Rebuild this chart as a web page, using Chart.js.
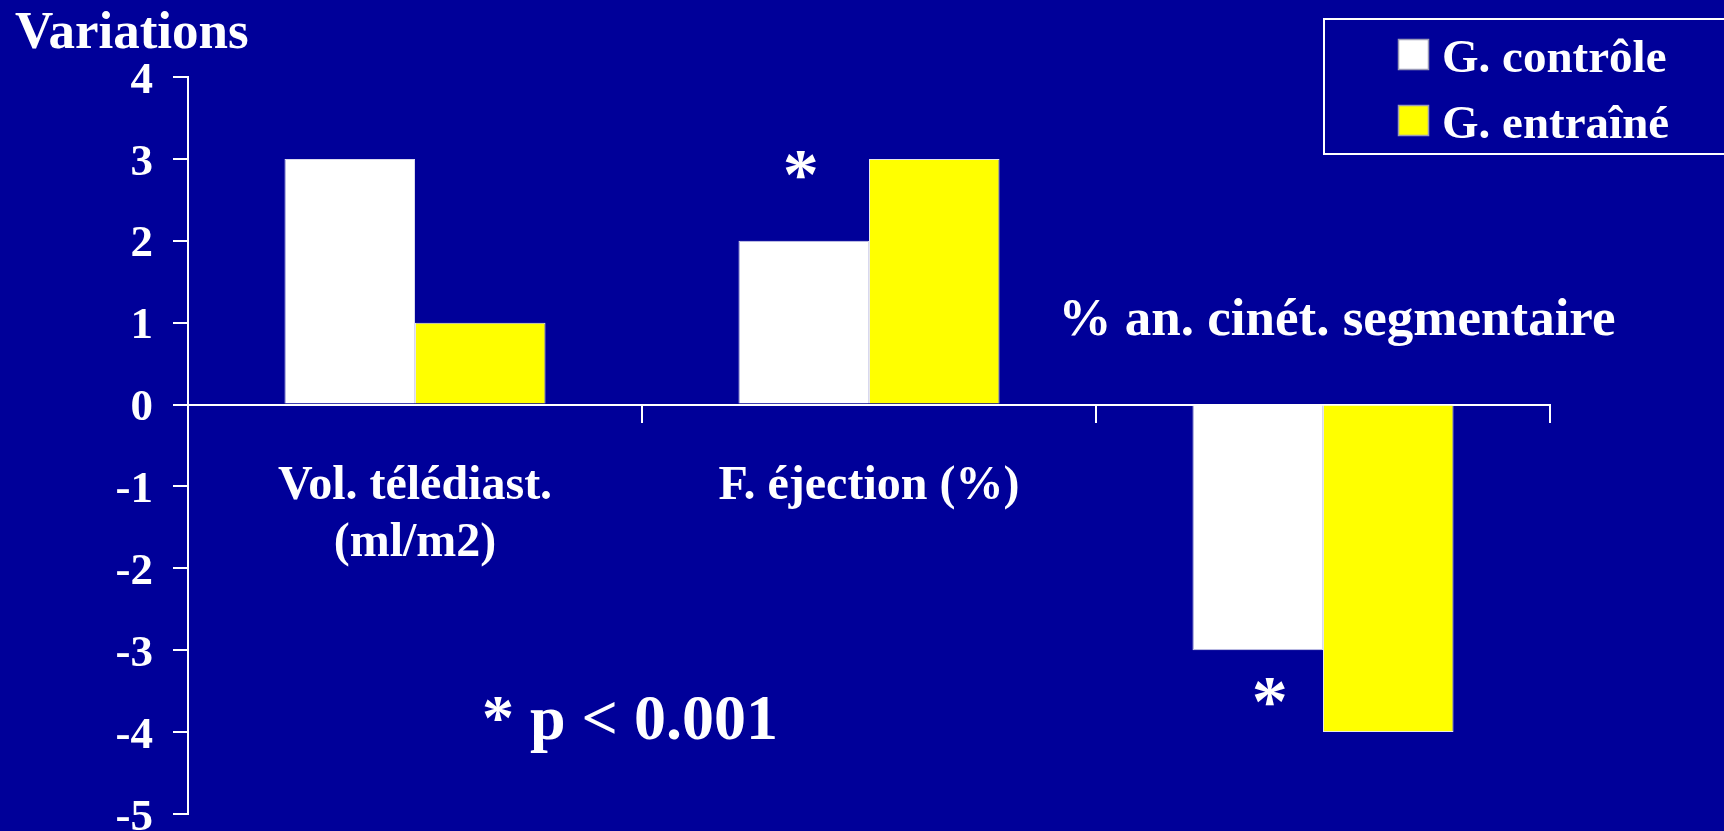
<!DOCTYPE html>
<html lang="fr">
<head>
<meta charset="utf-8">
<title>Variations</title>
<script src="https://cdn.jsdelivr.net/npm/chart.js@4.4.1/dist/chart.umd.min.js"></script>
<style>
  html, body { margin: 0; padding: 0; background: #000099; overflow: hidden; }
  canvas { display: block; }
</style>
</head>
<body>
<canvas id="chart" width="1724" height="831"></canvas>
<script>
// Data
const categories = [['Vol. télédiast.', '(ml/m2)'], 'F. éjection (%)', '% an. cinét. segmentaire'];
const seriesNames = ['G. contrôle', 'G. entraîné'];
const controlValues = [3, 2, -3];
const trainedValues = [1, 3, -4];
const significance = ['', '*', '*'];   // marks on the control-group bars
const yTicks = [4, 3, 2, 1, 0, -1, -2, -3, -4, -5];
const yAxisTitle = 'Variations';
const footnote = '* p < 0.001';

// Styling
const BG = '#000099';
const FONT = "'Liberation Serif', 'Times New Roman', serif";
const seriesColors = ['#ffffff', '#ffff00'];
const seriesBorders = ['#d8d8ee', '#e8e8e8'];

const decor = {
  id: 'decor',
  beforeDraw(chart) {
    const ctx = chart.ctx;
    ctx.save();
    ctx.fillStyle = BG;
    ctx.fillRect(0, 0, chart.width, chart.height);
    ctx.restore();
  },
  afterDraw(chart) {
    const ctx = chart.ctx;
    const xs = chart.scales.x, ys = chart.scales.y;
    const zeroY = ys.getPixelForValue(0);
    ctx.save();
    ctx.fillStyle = '#ffffff';
    ctx.textBaseline = 'alphabetic';

    // axis title, top left
    ctx.font = `bold 53px ${FONT}`;
    ctx.textAlign = 'left';
    ctx.fillText(yAxisTitle, 15, 48);

    // labels of categories whose bars point down sit above the axis
    categories.forEach((c, i) => {
      if (controlValues[i] < 0) {
        ctx.font = `bold 53px ${FONT}`;
        ctx.textAlign = 'center';
        ctx.fillText(Array.isArray(c) ? c.join(' ') : c, xs.getPixelForValue(i) + 14, zeroY - 70);
      }
    });

    // significance marks on the control-group bars
    const meta = chart.getDatasetMeta(0);
    ctx.font = `bold 72px ${FONT}`;
    ctx.textAlign = 'center';
    significance.forEach((s, i) => {
      if (!s) return;
      const bar = meta.data[i];
      const m = ctx.measureText(s);
      const half = (m.actualBoundingBoxAscent - m.actualBoundingBoxDescent) / 2;
      if (controlValues[i] >= 0) {
        ctx.fillText(s, bar.x - 3, bar.y - 76 + half);
      } else {
        ctx.fillText(s, bar.x + 12, bar.y + 42 + half);
      }
    });

    // footnote
    ctx.font = `bold 64px ${FONT}`;
    ctx.textAlign = 'center';
    ctx.fillText(footnote, 630, 739);

    // legend box
    ctx.strokeStyle = '#ffffff';
    ctx.lineWidth = 2;
    ctx.strokeRect(1324, 19, 420, 135);
    ctx.font = `bold 47px ${FONT}`;
    ctx.textAlign = 'left';
    chart.data.datasets.forEach((ds, i) => {
      const top = 39 + i * 66;
      ctx.fillStyle = ds.backgroundColor;
      ctx.fillRect(1398, top, 31, 31);
      ctx.strokeStyle = '#9a9ab8';
      ctx.lineWidth = 1.5;
      ctx.strokeRect(1398.5, top + 0.5, 30, 30);
      ctx.fillStyle = '#ffffff';
      ctx.fillText(ds.label, 1442, top + 33);
    });
    ctx.restore();
  }
};

new Chart(document.getElementById('chart'), {
  type: 'bar',
  data: {
    labels: categories,
    datasets: [
      { label: seriesNames[0], data: controlValues, backgroundColor: seriesColors[0], borderColor: seriesBorders[0], borderWidth: 1 },
      { label: seriesNames[1], data: trainedValues, backgroundColor: seriesColors[1], borderColor: seriesBorders[1], borderWidth: 1 }
    ]
  },
  options: {
    responsive: false,
    animation: false,
    events: [],
    datasets: { bar: { categoryPercentage: 0.575, barPercentage: 1.0 } },
    layout: { padding: { left: 0, top: 77, right: 174, bottom: 17 } },
    plugins: { legend: { display: false }, title: { display: false }, tooltip: { enabled: false } },
    scales: {
      x: {
        position: { y: 0 },
        offset: true,
        grid: { offset: true, drawOnChartArea: false, drawTicks: true, tickLength: 17, color: '#ffffff', lineWidth: 2 },
        border: { display: true, color: '#ffffff', width: 2 },
        ticks: {
          color: '#ffffff',
          font: { family: FONT, size: 48, weight: 'bold', lineHeight: 1.2 },
          padding: 36,
          maxRotation: 0,
          minRotation: 0,
          autoSkip: false,
          callback(value, index) { return controlValues[index] < 0 ? '' : categories[index]; }
        },
        afterFit(s) { s.height = 0; s.paddingLeft = 0; s.paddingRight = 0; }
      },
      y: {
        min: Math.min(...yTicks),
        max: Math.max(...yTicks),
        grid: { drawOnChartArea: false, drawTicks: true, tickLength: 15, color: '#ffffff', lineWidth: 2 },
        border: { display: true, color: '#ffffff', width: 2 },
        ticks: {
          color: '#ffffff',
          font: { family: FONT, size: 45, weight: 'bold' },
          padding: 20,
          labelOffset: 4
        },
        afterBuildTicks(s) { s.ticks = yTicks.map(v => ({ value: v })); },
        afterFit(s) { s.width = 188; s.paddingTop = 0; s.paddingBottom = 0; }
      }
    }
  },
  plugins: [decor]
});
</script>
</body>
</html>
